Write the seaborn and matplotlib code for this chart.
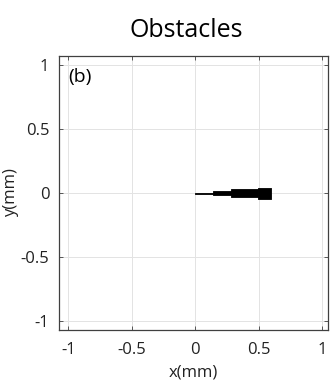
import numpy as np
import matplotlib
matplotlib.use("Agg")
import matplotlib.pyplot as plt
import seaborn as sns

# Obstacle segments along y=0: start x, end x, thickness (mm)
seg_x0 = [0.0, 0.14, 0.285, 0.495]
seg_x1 = [0.14, 0.285, 0.495, 0.60]
seg_thick = [0.008, 0.03, 0.058, 0.085]

xticks = [-1, -0.5, 0, 0.5, 1]
yticks = [-1, -0.5, 0, 0.5, 1]
xtick_labels = ["-1", "-0.5", "0", "0.5", "1"]
ytick_labels = ["-1", "-0.5", "0", "0.5", "1"]

sns.set_theme(style="white")
plt.rcParams['font.family'] = ['Open Sans', 'DejaVu Sans']

fig = plt.figure(figsize=(3.30, 3.83), dpi=100)
ax = fig.add_axes([59/330, 1-329.5/383, (327.5-59)/330, (329.5-56)/383])

for x0, x1, t in zip(seg_x0, seg_x1, seg_thick):
    ax.fill_between([x0, x1], [-t/2, -t/2], [t/2, t/2], color='black', lw=0.6, edgecolor='black')

ax.set_xlim(-1.073, 1.044)
ax.set_ylim(-1.067, 1.074)
ax.set_xticks(xticks)
ax.set_xticklabels(xtick_labels)
ax.set_yticks(yticks)
ax.set_yticklabels(ytick_labels)
ax.grid(True, color='#e3e3e3', lw=0.7)
ax.set_axisbelow(True)
for s in ax.spines.values():
    s.set_color('#404040')
    s.set_linewidth(0.9)
ax.tick_params(direction='in', length=3, width=0.6, color='#404040', labelsize=12,
               labelcolor='#222222', top=True, right=True, bottom=True, left=True)
ax.tick_params(axis='x', pad=9)
ax.tick_params(axis='y', pad=7)
ax.set_xlabel('x(mm)', fontsize=12, color='#222222', labelpad=5)
ax.set_ylabel('y(mm)', fontsize=12, color='#222222', labelpad=1)
ax.set_title('Obstacles', fontsize=18, color='black', pad=14, x=0.475)
ax.text(-1.0, 0.91, '(b)', fontsize=14, color='black', va='center', ha='left')

fig.savefig('out.png', dpi=100)
